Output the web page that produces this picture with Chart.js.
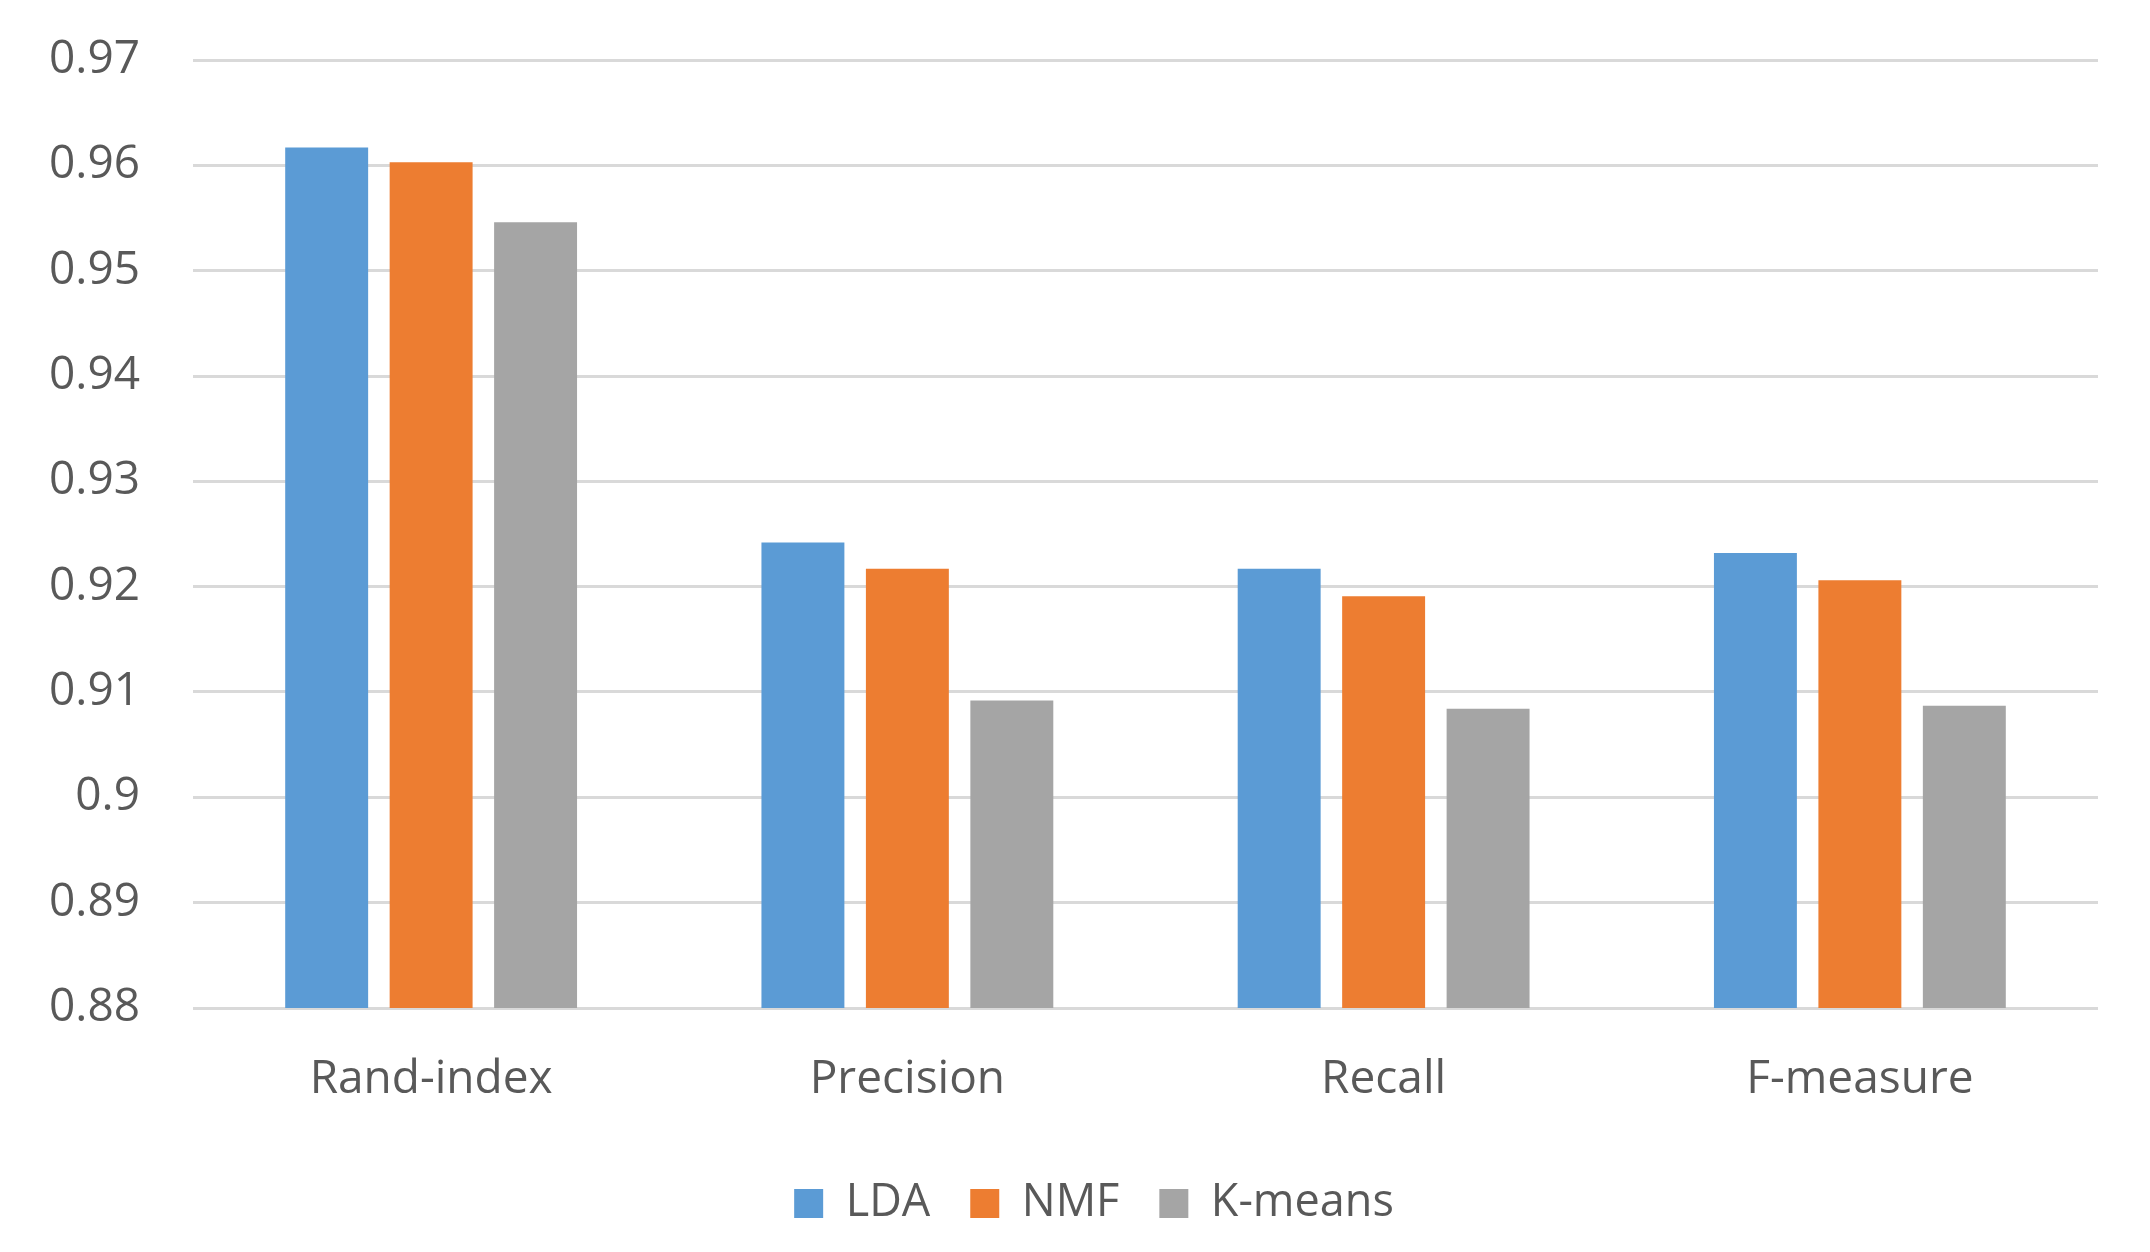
<!DOCTYPE html>
<html>
<head>
<meta charset="utf-8">
<script src="https://cdn.jsdelivr.net/npm/chart.js@4"></script>
<style>
  html, body { margin: 0; padding: 0; background: #ffffff; }
  #wrap { width: 2150px; height: 1252px; }
</style>
</head>
<body>
<div id="wrap"><canvas id="c" width="2150" height="1252"></canvas></div>
<script>
const categories = ['Rand-index', 'Precision', 'Recall', 'F-measure'];
const ldaValues = [0.9617, 0.9242, 0.9217, 0.9232];
const nmfValues = [0.9603, 0.9217, 0.9191, 0.9206];
const kmeansValues = [0.9546, 0.9092, 0.9084, 0.9087];
const seriesNames = ['LDA', 'NMF', 'K-means'];
const yTickLabels = ['0.88', '0.89', '0.9', '0.91', '0.92', '0.93', '0.94', '0.95', '0.96', '0.97'];

const textColor = '#595959';
const fontFamily = "'Open Sans', 'Noto Sans', 'Liberation Sans', sans-serif";

// shift the legend slightly right, as in the reference layout
const legendShift = {
  id: 'legendShift',
  afterLayout(chart) {
    const lg = chart.legend;
    if (lg) { lg.left += 21; lg.right += 21; }
  }
};

new Chart(document.getElementById('c'), {
  type: 'bar',
  data: {
    labels: categories,
    datasets: [
      { label: seriesNames[0], data: ldaValues, backgroundColor: '#5B9BD5' },
      { label: seriesNames[1], data: nmfValues, backgroundColor: '#ED7D31' },
      { label: seriesNames[2], data: kmeansValues, backgroundColor: '#A5A5A5' }
    ]
  },
  plugins: [legendShift],
  options: {
    responsive: false,
    animation: false,
    devicePixelRatio: 1,
    layout: { padding: { left: 48, right: 52, top: 60, bottom: 16 } },
    datasets: { bar: { categoryPercentage: 0.658, barPercentage: 0.794 } },
    scales: {
      x: {
        grid: { display: false, drawTicks: false },
        border: { display: false },
        ticks: { color: textColor, font: { family: fontFamily, size: 46 }, padding: 44 },
        afterFit: function (scale) { scale.height = 133; }
      },
      y: {
        min: 0.88,
        max: 0.97,
        grid: { color: '#d9d9d9', lineWidth: 3, drawTicks: true, tickLength: 53, tickColor: 'rgba(0,0,0,0)' },
        border: { display: false },
        afterFit: function (scale) { scale.width = 145; },
        ticks: {
          stepSize: 0.01,
          color: textColor,
          padding: 0,
          font: { family: fontFamily, size: 46 },
          callback: function (value) {
            const idx = Math.round((value - 0.88) / 0.01);
            return yTickLabels[idx];
          }
        }
      }
    },
    plugins: {
      legend: {
        position: 'bottom',
        labels: {
          color: textColor,
          font: { family: fontFamily, size: 45 },
          boxWidth: 29,
          boxHeight: 29,
          padding: 40
        }
      },
      tooltip: { enabled: false }
    }
  }
});
</script>
</body>
</html>
